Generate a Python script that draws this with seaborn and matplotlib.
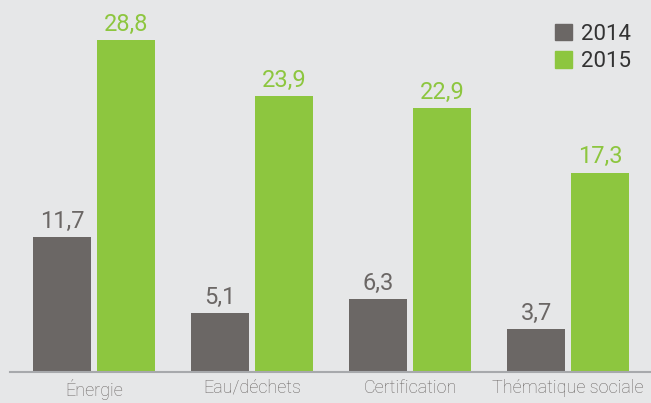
import matplotlib
matplotlib.use("Agg")
import matplotlib.pyplot as plt
import seaborn as sns
import pandas as pd
from matplotlib.patches import Patch

categories = ["Énergie", "Eau/déchets", "Certification", "Thématique sociale"]
years = ["2014", "2015"]
values_2014 = [11.7, 5.1, 6.3, 3.7]
values_2015 = [28.8, 23.9, 22.9, 17.3]

bg = "#e6e7e8"
gray = "#6b6765"
green = "#8dc63f"
palette = {"2014": gray, "2015": green}

df = pd.DataFrame({
    "categorie": categories * 2,
    "annee": [years[0]] * 4 + [years[1]] * 4,
    "valeur": values_2014 + values_2015,
})

sns.set_style("white")
plt.rcParams["font.family"] = ["Roboto", "DejaVu Sans"]

fig = plt.figure(figsize=(6.51, 4.03), dpi=100, facecolor=bg)
ax = fig.add_axes([10 / 651, 31 / 403, 641 / 651, 372 / 403])
ax.set_facecolor(bg)

sns.barplot(data=df, x="categorie", y="valeur", hue="annee", palette=palette,
            width=0.81, gap=0.1, saturation=1, linewidth=0, ax=ax, legend=False)

ax.set_xlim(-0.5316, 3.525)
ax.set_ylim(0, 32.26)

# étiquettes de valeur au-dessus des barres
for cont, yr in zip(ax.containers, years):
    col = palette[yr]
    for bar in cont:
        h = bar.get_height()
        ax.annotate(f"{h:.1f}".replace(".", ","),
                    (bar.get_x() + bar.get_width() / 2, h),
                    xytext=(0, 3), textcoords="offset points",
                    ha="center", va="bottom", fontsize=17, color=col)

for s in ["top", "right", "left"]:
    ax.spines[s].set_visible(False)
ax.spines["bottom"].set_color("#a7a9ac")
ax.spines["bottom"].set_linewidth(1.5)
ax.set_yticks([])
ax.set_xlabel("")
ax.set_ylabel("")
ax.tick_params(axis="x", length=0, pad=5, labelsize=13, labelcolor=gray)
for lbl in ax.get_xticklabels():
    lbl.set_fontweight("light")

handles = [Patch(color=palette[y], label=y) for y in years]
ax.legend(handles=handles, loc="upper right", bbox_to_anchor=(1.0, 0.99),
          frameon=False, fontsize=16, handlelength=0.75, handleheight=0.75,
          handletextpad=0.4, labelspacing=0.3, labelcolor="#333333")

fig.savefig("out.png", dpi=100, facecolor=bg)
